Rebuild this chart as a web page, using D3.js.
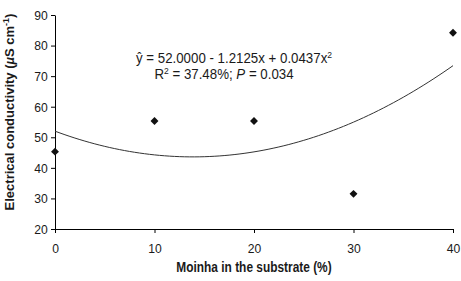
<!DOCTYPE html>
<html>
<head>
<meta charset="utf-8">
<script src="https://cdn.jsdelivr.net/npm/d3@7"></script>
<style>
  body { margin: 0; background: #fff; }
  svg text { font-family: "Liberation Sans", Arial, sans-serif; fill: #1a1a1a; }
</style>
</head>
<body>
<svg id="chart"></svg>
<script>
const moinha = [0, 10, 20, 30, 40];
const conductivity = [45.3, 55.3, 55.3, 31.5, 84.2];
const coefs = [52.0, -1.2125, 0.0437];
const xTicks = [0, 10, 20, 30, 40];
const yTicks = [20, 30, 40, 50, 60, 70, 80, 90];

const W = 461, H = 281;
const margin = { top: 15, right: 8, bottom: 52, left: 55 };
const width = W - margin.left - margin.right;
const height = H - margin.top - margin.bottom;

const svg = d3.select('#chart').attr('width', W).attr('height', H);
const g = svg.append('g').attr('transform', `translate(${margin.left},${margin.top})`);

const x = d3.scaleLinear().domain([0, 40]).range([0, width]);
const y = d3.scaleLinear().domain([20, 90]).range([height, 0]);

// Axes
const xAxis = g.append('g').attr('transform', `translate(0,${height})`)
    .call(d3.axisBottom(x).tickValues(xTicks).tickSize(4).tickSizeOuter(0).tickPadding(10));
const yAxis = g.append('g')
    .call(d3.axisLeft(y).tickValues(yTicks).tickSize(4).tickSizeOuter(0).tickPadding(4));
[xAxis, yAxis].forEach(a => {
    a.selectAll('line, path').attr('stroke', '#000').attr('stroke-width', 1);
    a.selectAll('text').attr('font-size', '13.5px').attr('fill', '#1a1a1a')
        .attr('transform', 'scale(0.9,1)')
        .style('font-family', '"Liberation Sans", Arial, sans-serif');
});

// Fitted curve (from the printed regression equation)
const fit = d3.range(0, 40.01, 0.5).map(v => [v, coefs[0] + coefs[1] * v + coefs[2] * v * v]);
g.append('path')
    .datum(fit)
    .attr('fill', 'none')
    .attr('stroke', '#333')
    .attr('stroke-width', 1)
    .attr('d', d3.line().x(d => x(d[0])).y(d => y(d[1])));

// Points
g.selectAll('.pt')
    .data(moinha.map((m, i) => [m, conductivity[i]]))
    .enter()
    .append('path')
    .attr('transform', d => `translate(${x(d[0])},${y(d[1])})`)
    .attr('d', d3.symbol().type(d3.symbolDiamond2).size(40))
    .attr('fill', '#111');

// Equation
const eq = svg.append('text').attr('transform', 'translate(234,63) scale(0.95,1)')
    .attr('text-anchor', 'middle').attr('font-size', '14px');
eq.append('tspan').text('ŷ = 52.0000 - 1.2125x + 0.0437x');
eq.append('tspan').attr('font-size', '9px').attr('dy', -5).text('2');

const r2 = svg.append('text').attr('transform', 'translate(224,79) scale(0.95,1)')
    .attr('text-anchor', 'middle').attr('font-size', '14px');
r2.append('tspan').text('R');
r2.append('tspan').attr('font-size', '9px').attr('dy', -5).text('2');
r2.append('tspan').attr('dy', 5).text(' = 37.48%; ');
r2.append('tspan').attr('font-style', 'italic').text('P');
r2.append('tspan').text(' = 0.034');

// Axis titles
svg.append('text')
    .attr('transform', 'translate(254,272) scale(0.85,1)')
    .attr('text-anchor', 'middle').attr('font-size', '14px').attr('font-weight', 'bold')
    .text('Moinha in the substrate (%)');

const yt = svg.append('text')
    .attr('transform', 'translate(14,112) rotate(-90)')
    .attr('text-anchor', 'middle').attr('font-size', '13px').attr('font-weight', 'bold');
yt.append('tspan').text('Electrical conductivity (');
yt.append('tspan').attr('font-style', 'italic').text('µ');
yt.append('tspan').text('S cm');
yt.append('tspan').attr('font-size', '9px').attr('dy', -5).text('-1');
yt.append('tspan').attr('dy', 5).text(')');
</script>
</body>
</html>
